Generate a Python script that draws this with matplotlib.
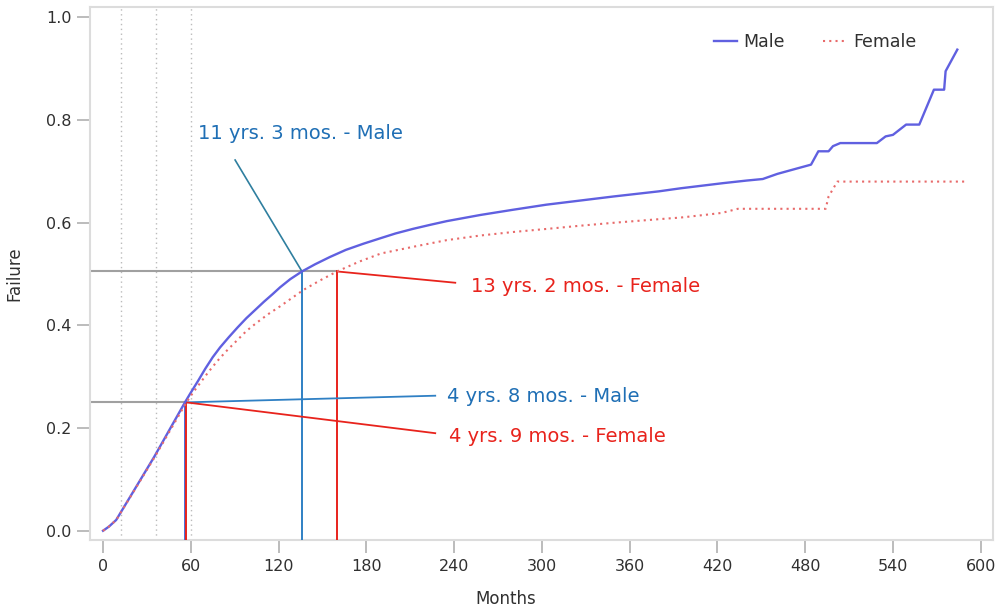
import matplotlib
matplotlib.use("Agg")
import matplotlib.pyplot as plt

plt.rcParams['font.family'] = ['DejaVu Sans']

# ---------------- data ----------------
male_months = [0, 4, 9, 20, 35, 56, 60, 65, 70, 75, 80, 86, 92, 98, 104, 110, 116, 121,
               128, 136, 145, 155, 166, 178, 190, 200, 212, 224, 235, 258, 280, 303,
               326, 349, 380, 395, 424, 440, 451, 461, 475, 484, 489, 496, 499, 504,
               529, 535, 540, 549, 558, 568, 575, 576, 584]
male_fail = [0.0, 0.008, 0.021, 0.073, 0.144, 0.250, 0.269, 0.292, 0.316, 0.338, 0.357,
             0.377, 0.396, 0.414, 0.430, 0.446, 0.461, 0.474, 0.490, 0.505, 0.519,
             0.533, 0.547, 0.559, 0.570, 0.579, 0.588, 0.596, 0.603, 0.615, 0.625,
             0.635, 0.643, 0.651, 0.661, 0.667, 0.677, 0.682, 0.685, 0.695, 0.706,
             0.713, 0.739, 0.739, 0.749, 0.755, 0.755, 0.768, 0.771, 0.791, 0.791,
             0.859, 0.859, 0.895, 0.937]

female_months = [0, 4, 9, 20, 35, 57, 62, 67, 72, 78, 84, 91, 98, 105, 113, 121, 129,
                 137, 148, 160, 175, 190, 212, 235, 258, 281, 304, 326, 350, 381, 395,
                 411, 423, 434, 494, 496, 502, 589]
female_fail = [0.0, 0.008, 0.021, 0.072, 0.142, 0.250, 0.271, 0.290, 0.309, 0.330,
               0.349, 0.369, 0.389, 0.405, 0.422, 0.437, 0.453, 0.469, 0.487, 0.505,
               0.524, 0.540, 0.553, 0.566, 0.575, 0.582, 0.588, 0.594, 0.600, 0.607,
               0.610, 0.615, 0.619, 0.627, 0.627, 0.651, 0.680, 0.680]

ref_months = [12, 36, 60]            # dotted reference lines
median_level = 0.505
q1_level = 0.25
male_median, female_median = 136, 160
male_q1, female_q1 = 56, 57

labels = {
    "male_median": "11 yrs. 3 mos. - Male",
    "female_median": "13 yrs. 2 mos. - Female",
    "male_q1": "4 yrs. 8 mos. - Male",
    "female_q1": "4 yrs. 9 mos. - Female",
}
x_ticks = [0, 60, 120, 180, 240, 300, 360, 420, 480, 540, 600]
y_ticks = [0.0, 0.2, 0.4, 0.6, 0.8, 1.0]

# ---------------- styling ----------------
BLUE_TXT = '#1f6fb5'
BLUE_LN = '#2f80c4'
TEAL_LN = '#2f7f9f'
RED = '#e8231c'
MALE_C = '#6060e0'
FEMALE_C = '#e86a6a'

fig = plt.figure(figsize=(10.01, 6.07), dpi=100)
ax = fig.add_axes([90/1001, 67/607, 903/1001, 533/607])
xmin, xmax = -8.9, 608.4
ymin, ymax = -0.018, 1.020
ax.set_xlim(xmin, xmax)
ax.set_ylim(ymin, ymax)

for m in ref_months:
    ax.axvline(m, color='#bbbbbb', lw=1.0, ls=(0, (1, 2.5)), zorder=1)

# guide lines
ax.plot([xmin, female_median], [median_level, median_level], color='#a0a0a0', lw=1.5, zorder=2)
ax.plot([xmin, male_q1], [q1_level, q1_level], color='#a0a0a0', lw=1.5, zorder=2)
ax.plot([male_median, male_median], [ymin, median_level], color=BLUE_LN, lw=1.4, zorder=3)
ax.plot([female_median, female_median], [ymin, median_level], color=RED, lw=1.4, zorder=3)
ax.plot([male_q1, male_q1], [ymin, q1_level], color='#4a6fd8', lw=1.4, zorder=3)
ax.plot([female_q1, female_q1], [ymin, q1_level], color=RED, lw=1.4, zorder=3)

# curves
ax.plot(male_months, male_fail, color=MALE_C, lw=1.7, label='Male', zorder=4)
ax.plot(female_months, female_fail, color=FEMALE_C, lw=1.5, ls=(0, (1, 2)),
        label='Female', zorder=4)

# annotations
fs = 14
ax.plot([male_median, 90.3], [median_level, 0.722], color=TEAL_LN, lw=1.2, zorder=3)
ax.text(65.2, 0.774, labels["male_median"], color=BLUE_TXT, fontsize=fs,
        ha='left', va='center')
ax.plot([female_median, 240.8], [median_level, 0.483], color=RED, lw=1.3, zorder=3)
ax.text(251.5, 0.475, labels["female_median"], color=RED, fontsize=fs,
        ha='left', va='center')
ax.plot([male_q1, 227.1], [q1_level, 0.263], color=BLUE_LN, lw=1.3, zorder=3)
ax.text(235.3, 0.261, labels["male_q1"], color=BLUE_TXT, fontsize=fs,
        ha='left', va='center')
ax.plot([female_q1, 227.1], [q1_level, 0.190], color=RED, lw=1.3, zorder=3)
ax.text(236.5, 0.183, labels["female_q1"], color=RED, fontsize=fs,
        ha='left', va='center')

# axes styling
for s in ax.spines.values():
    s.set_color('#dcdcdc')
    s.set_linewidth(1.5)
ax.set_xticks(x_ticks)
ax.set_yticks(y_ticks)
ax.set_yticklabels([f"{v:.1f}" for v in y_ticks])
ax.tick_params(axis='both', direction='out', length=9.5, width=1.2, color='#b0b0b0',
               labelcolor='#303030', labelsize=11.5, pad=4)

ax.set_xlabel('Months', fontsize=12, color='#303030')
ax.set_ylabel('Failure', fontsize=12, color='#303030')
ax.xaxis.set_label_coords((506 - 90) / 903, (540 - 590) / 533)
ax.yaxis.set_label_coords((23 - 90) / 903, 0.5)

leg = ax.legend(loc='center right', bbox_to_anchor=(916/1001, 1 - 42/607),
                bbox_transform=fig.transFigure, ncol=2, frameon=False,
                fontsize=12.5, handlelength=1.3, handletextpad=0.4,
                columnspacing=2.2, borderpad=0, borderaxespad=0)
for t in leg.get_texts():
    t.set_color('#303030')

fig.savefig('out.png', dpi=100)
